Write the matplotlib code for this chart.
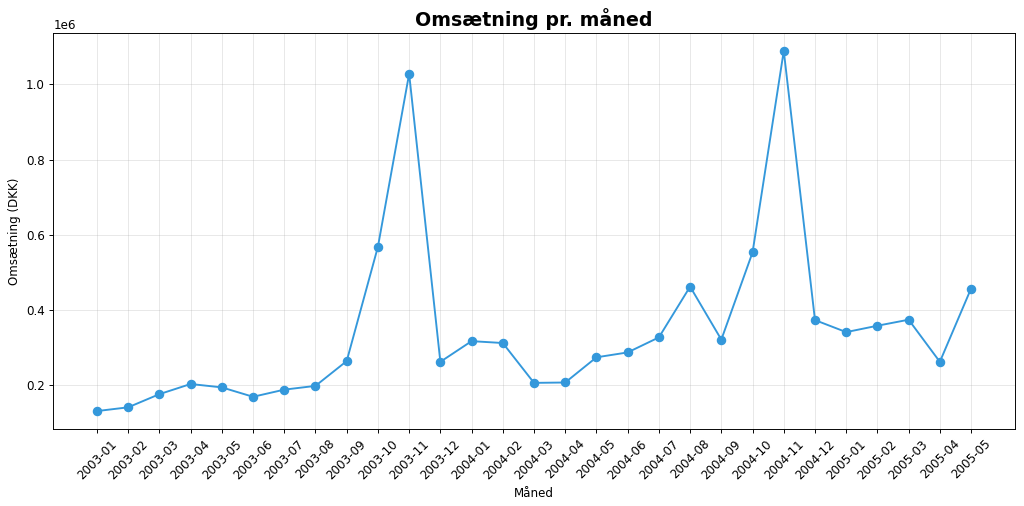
import matplotlib
matplotlib.use("Agg")
import matplotlib.pyplot as plt

months = ["2003-01", "2003-02", "2003-03", "2003-04", "2003-05", "2003-06",
          "2003-07", "2003-08", "2003-09", "2003-10", "2003-11", "2003-12",
          "2004-01", "2004-02", "2004-03", "2004-04", "2004-05", "2004-06",
          "2004-07", "2004-08", "2004-09", "2004-10", "2004-11", "2004-12",
          "2005-01", "2005-02", "2005-03", "2005-04", "2005-05"]
revenue = [131000, 141000, 176000, 203000, 194000, 169000,
           188000, 198000, 264000, 568000, 1028000, 262000,
           317000, 312000, 206000, 207000, 274000, 287000,
           327000, 462000, 321000, 553000, 1089000, 373000,
           341000, 358000, 374000, 262000, 457000]

# drawn at 12 in wide, scaled to 1024 px
fig, ax = plt.subplots(figsize=(12, 5.93), dpi=1024 / 12)
ax.plot(months, revenue, marker="o", color="#3498db", linewidth=1.6, markersize=7)
ax.set_title("Omsætning pr. måned", fontsize=16, fontweight="bold")
ax.set_xlabel("Måned")
ax.set_ylabel("Omsætning (DKK)")
ax.grid(True, alpha=0.3)
plt.setp(ax.get_xticklabels(), rotation=45)
fig.subplots_adjust(left=0.052, right=0.991, top=0.935, bottom=0.152)
fig.savefig("out.png")
